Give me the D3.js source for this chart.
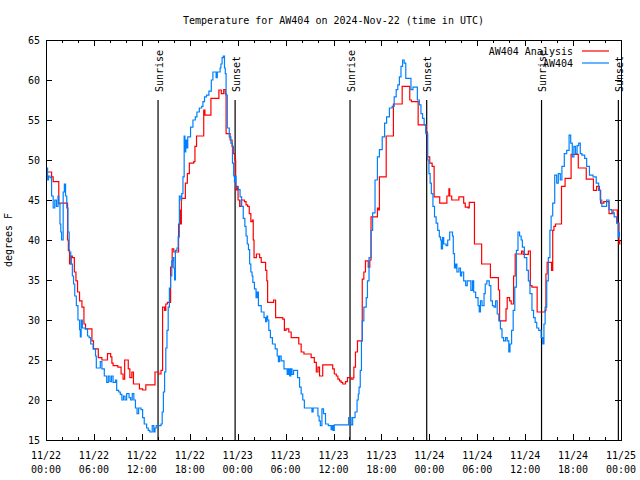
<!DOCTYPE html>
<html><head><meta charset="utf-8">
<script src="https://cdn.jsdelivr.net/npm/d3@7"></script>
<style>
body{margin:0;background:#fff}
svg{display:block}
text{font-family:"DejaVu Sans Mono","Liberation Mono",monospace;font-size:10px;fill:#000}
</style>
</head><body>
<svg id="chart" width="640" height="480"></svg>
<script>
const chartTitle = "Temperature for AW404 on 2024-Nov-22 (time in UTC)";
const yAxisLabel = "degrees F";
const startUTC = Date.UTC(2024, 10, 22, 0, 0);
const endUTC = Date.UTC(2024, 10, 25, 0, 0);
const yTickValues = [15, 20, 25, 30, 35, 40, 45, 50, 55, 60, 65];
const sunriseHours = [14.03, 38.07, 62.05];
const sunsetHours = [23.68, 47.67, 71.67];
const seriesNames = ["AW404 Analysis", "AW404"];
const seriesColors = ["#ff0000", "#0080ff"];

// [hours since 11/22 00:00 UTC, temperature °F]
const analysisSeries = [[0.0,48.5],[0.7,47.9],[0.9,47.3],[1.6,44.6],[2.7,40.0],[2.8,38.7],[2.95,37.0],[3.15,38.0],[3.3,37.8],[3.55,36.0],[3.75,34.9],[3.95,33.5],[4.2,32.4],[4.5,31.6],[4.75,29.5],[4.95,28.9],[5.75,27.4],[5.95,26.4],[6.55,25.3],[7.0,25.0],[7.7,25.8],[8.1,25.4],[8.25,24.6],[8.4,24.3],[9.0,24.1],[9.4,23.25],[9.65,22.6],[9.85,25.0],[10.3,23.9],[10.5,22.8],[10.75,23.5],[10.95,22.0],[11.7,21.4],[12.1,21.25],[12.5,21.9],[13.65,23.5],[14.1,23.25],[14.4,23.7],[14.6,31.6],[14.85,31.2],[15.0,32.0],[15.2,32.2],[15.6,36.6],[15.8,38.9],[16.0,38.5],[16.6,42.0],[16.75,43.75],[16.85,42.0],[16.95,45.2],[17.45,47.1],[17.7,48.3],[17.95,49.6],[18.5,49.8],[18.65,51.7],[18.85,53.0],[19.75,56.25],[19.9,55.6],[20.65,57.7],[21.65,58.75],[21.95,58.3],[22.25,58.8],[22.45,58.3],[22.55,53.3],[23.05,52.5],[23.3,51.7],[23.45,50.8],[23.65,50.0],[23.75,46.25],[23.9,46.7],[24.05,45.0],[24.25,44.2],[24.45,45.0],[24.85,44.8],[25.05,44.4],[25.25,44.2],[25.45,43.3],[25.65,42.3],[25.85,42.5],[25.95,40.0],[26.05,37.8],[26.35,38.25],[26.75,37.8],[26.95,37.2],[27.5,36.2],[27.65,34.9],[27.75,32.2],[28.5,32.5],[28.75,30.3],[29.65,30.1],[29.85,28.7],[30.05,28.9],[30.4,28.5],[30.7,27.8],[31.65,27.0],[31.95,26.0],[32.3,25.75],[33.2,25.3],[33.6,24.7],[33.85,23.5],[34.05,24.1],[34.25,23.0],[34.65,24.4],[35.9,23.9],[36.1,23.25],[36.35,23.0],[36.55,22.6],[36.75,22.4],[36.95,22.2],[37.15,22.0],[37.5,22.3],[37.75,22.8],[38.2,22.6],[38.45,22.8],[38.55,24.1],[38.75,26.0],[39.0,27.4],[39.6,35.1],[39.8,36.0],[40.0,37.4],[40.35,36.6],[40.55,37.5],[40.7,42.9],[41.5,44.0],[41.6,43.75],[41.75,47.9],[42.6,53.0],[43.5,57.0],[44.6,59.2],[45.55,57.5],[45.75,57.3],[46.6,54.4],[47.6,53.5],[47.75,50.4],[48.05,49.6],[48.35,49.2],[48.6,45.4],[49.3,44.6],[50.2,45.5],[50.45,46.4],[50.55,45.5],[50.8,45.0],[51.7,45.4],[52.3,44.6],[52.5,44.1],[52.85,44.0],[53.0,44.7],[53.65,39.5],[54.55,37.0],[55.65,35.3],[56.65,33.75],[56.8,29.9],[57.6,31.4],[57.75,32.8],[58.05,32.4],[58.25,32.0],[58.55,35.5],[58.75,38.25],[59.55,38.6],[59.75,38.2],[60.4,38.6],[60.65,34.3],[60.85,34.1],[61.5,31.0],[62.5,31.2],[62.6,35.75],[62.75,37.2],[63.3,36.2],[63.45,41.2],[63.6,41.7],[63.8,42.0],[64.55,46.7],[65.0,47.7],[65.75,50.7],[66.65,49.0],[67.65,47.6],[68.55,46.2],[68.95,46.7],[69.3,46.2],[69.45,44.6],[69.85,44.8],[70.5,43.3],[71.0,43.75],[71.55,42.1],[71.75,39.5],[71.85,40.0]];

const observedSeries = [[0.0,48.0],[0.1,49.0],[0.2,47.5],[0.3,48.0],[0.5,47.8],[0.7,45.5],[0.9,44.0],[1.1,45.0],[1.3,44.2],[1.5,45.5],[1.6,44.5],[1.75,42.0],[1.85,41.0],[1.95,40.0],[2.15,46.0],[2.3,47.0],[2.45,45.5],[2.6,44.0],[2.75,41.0],[2.9,38.5],[3.1,37.0],[3.3,35.5],[3.45,34.5],[3.6,33.0],[3.8,31.8],[4.0,30.0],[4.2,28.8],[4.3,27.9],[4.4,30.0],[4.55,29.0],[4.9,28.9],[5.2,28.0],[5.4,27.8],[5.6,27.0],[5.9,26.4],[6.2,25.5],[6.3,24.0],[6.6,24.0],[6.8,24.8],[7.0,23.9],[7.3,23.0],[7.6,22.2],[7.8,23.0],[8.0,22.3],[8.2,23.0],[8.4,22.2],[8.7,22.5],[8.85,21.2],[9.1,21.0],[9.3,20.7],[9.5,20.0],[9.7,20.5],[9.9,20.0],[10.1,20.8],[10.4,20.3],[10.6,20.0],[10.8,20.8],[11.0,20.0],[11.2,19.0],[11.4,18.3],[11.6,19.0],[11.9,18.8],[12.1,17.8],[12.3,17.0],[12.6,16.5],[12.8,16.2],[13.0,16.0],[13.3,16.8],[13.5,16.0],[13.65,16.5],[13.8,16.8],[14.2,16.8],[14.4,17.0],[14.55,18.5],[14.7,21.0],[14.85,23.5],[15.0,26.5],[15.15,28.7],[15.3,31.6],[15.45,34.0],[15.6,35.5],[15.75,37.4],[15.9,37.8],[16.0,36.5],[16.1,35.0],[16.2,38.7],[16.4,39.0],[16.55,40.4],[16.7,45.5],[16.9,45.0],[17.0,45.8],[17.15,47.9],[17.3,53.0],[17.4,51.0],[17.5,52.5],[17.6,51.5],[17.75,52.9],[18.1,54.1],[18.4,55.0],[18.7,55.4],[18.9,56.0],[19.2,56.5],[19.5,56.7],[19.65,57.3],[19.85,57.9],[20.1,58.1],[20.4,58.6],[20.7,60.0],[20.9,61.0],[21.3,60.3],[21.45,61.0],[21.8,61.5],[21.9,62.0],[22.05,62.8],[22.2,63.0],[22.35,61.5],[22.45,60.8],[22.55,58.1],[22.7,54.0],[22.95,52.9],[23.15,52.1],[23.35,49.6],[23.5,48.0],[23.6,47.3],[23.7,48.0],[23.8,46.5],[24.1,46.3],[24.3,45.4],[24.5,44.2],[24.7,42.7],[24.9,41.7],[25.05,40.5],[25.2,39.5],[25.35,38.8],[25.5,37.0],[25.65,36.0],[25.8,35.5],[25.9,34.7],[26.1,33.9],[26.3,32.8],[26.45,33.5],[26.6,31.8],[26.95,31.0],[27.3,30.3],[27.5,29.8],[27.65,30.5],[27.75,30.0],[27.9,28.7],[28.1,27.8],[28.35,27.0],[28.7,26.4],[28.95,25.5],[29.1,24.8],[29.25,25.5],[29.45,24.9],[29.8,23.9],[30.2,23.2],[30.35,23.9],[30.5,23.0],[30.65,23.9],[30.8,23.2],[31.0,23.7],[31.5,22.8],[31.75,21.6],[31.95,20.75],[32.15,20.0],[32.35,19.0],[33.2,19.0],[33.3,18.5],[33.45,19.0],[33.95,19.0],[34.05,18.0],[34.2,17.4],[34.35,16.8],[34.55,18.9],[34.75,18.3],[35.0,17.0],[35.35,16.8],[35.7,16.3],[35.85,16.8],[35.95,16.2],[36.1,16.9],[37.8,16.9],[37.9,17.8],[38.2,16.9],[38.4,17.8],[38.7,18.5],[38.95,20.0],[39.1,20.75],[39.2,21.6],[39.35,23.7],[39.5,27.4],[39.6,29.9],[39.8,31.6],[40.1,32.8],[40.25,34.9],[40.45,37.8],[40.7,41.2],[40.9,43.4],[41.2,47.5],[41.5,50.4],[41.75,51.3],[42.1,52.9],[42.4,54.6],[42.65,55.4],[43.0,56.5],[43.35,56.7],[43.6,57.9],[43.85,58.8],[44.05,59.4],[44.25,60.4],[44.45,61.7],[44.65,62.5],[44.85,62.1],[45.05,60.2],[45.7,58.8],[45.95,59.1],[46.5,57.5],[46.75,56.9],[46.95,55.8],[47.15,55.2],[47.35,54.4],[47.55,53.3],[47.8,50.0],[47.95,48.3],[48.1,47.1],[48.25,45.8],[48.45,44.2],[48.65,42.9],[48.85,42.1],[49.05,41.2],[49.25,40.4],[49.4,40.0],[49.5,38.9],[49.65,40.3],[49.8,39.5],[50.1,39.3],[50.3,40.0],[50.55,41.0],[50.9,40.5],[51.0,38.3],[51.15,36.5],[51.3,37.0],[51.45,36.0],[51.7,36.5],[51.9,35.5],[52.05,36.0],[52.3,34.9],[52.55,34.3],[52.75,34.9],[53.0,34.9],[53.2,33.7],[53.4,34.9],[53.55,33.5],[53.8,32.8],[54.1,31.8],[54.25,31.0],[54.4,32.4],[54.6,31.8],[54.85,33.3],[55.0,34.5],[55.2,34.9],[55.5,34.3],[55.7,32.4],[55.9,31.8],[56.1,31.6],[56.3,32.4],[56.5,30.75],[56.7,29.9],[56.9,28.9],[57.1,27.8],[57.3,27.4],[57.55,27.8],[57.75,27.4],[57.95,26.0],[58.1,27.0],[58.3,28.7],[58.5,31.2],[58.7,34.1],[58.9,38.7],[59.1,41.0],[59.3,40.5],[59.5,40.0],[59.65,39.1],[59.9,37.8],[60.2,36.2],[60.4,34.9],[60.6,33.3],[60.85,31.2],[61.05,30.3],[61.25,29.7],[61.45,29.0],[61.7,28.7],[62.0,27.8],[62.2,27.0],[62.35,29.5],[62.5,31.6],[62.7,34.9],[62.9,37.8],[63.1,41.2],[63.25,43.0],[63.45,44.6],[63.7,48.1],[63.95,47.1],[64.15,48.3],[64.4,47.5],[64.6,49.2],[64.9,50.8],[65.2,51.2],[65.5,53.1],[65.7,52.1],[65.9,50.4],[66.1,51.7],[66.3,50.8],[66.5,51.8],[66.7,52.1],[66.9,50.8],[67.1,50.6],[67.45,50.2],[67.7,49.2],[68.05,48.1],[68.5,47.9],[68.9,47.1],[69.2,46.2],[69.4,45.0],[69.6,44.2],[70.2,45.0],[70.5,43.8],[70.85,43.4],[71.15,42.9],[71.45,42.1],[71.65,40.4],[71.8,41.0]];

const svg = d3.select("#chart");
const W = 640, H = 480;
const m = {left: 46, right: 19, top: 40, bottom: 40};
const x0 = m.left, x1 = W - m.right, y0 = m.top, y1 = H - m.bottom;

const hourToDate = h => new Date(startUTC + h * 3600e3);
const x = d3.scaleUtc().domain([new Date(startUTC), new Date(endUTC)]).range([x0, x1]);
const y = d3.scaleLinear().domain([15, 65]).range([y1, y0]);

// title
svg.append("text").attr("x", (x0 + x1) / 2).attr("y", 24)
  .attr("text-anchor", "middle").text(chartTitle);

// y label
svg.append("text").attr("transform", `translate(12,${(y0 + y1) / 2}) rotate(-90)`)
  .attr("text-anchor", "middle").text(yAxisLabel);

// ticks
const majorX = d3.utcHour.every(6).range(new Date(startUTC), new Date(endUTC + 1));
const minorX = d3.utcHour.every(2).range(new Date(startUTC), new Date(endUTC + 1));

const axisG = svg.append("g").attr("stroke", "#000").attr("stroke-width", 1).attr("shape-rendering", "crispEdges");
minorX.forEach(t => {
  const xx = Math.round(x(t)) + 0.5;
  const len = majorX.some(mj => +mj === +t) ? 6 : 3;
  axisG.append("line").attr("x1", xx).attr("x2", xx).attr("y1", y1).attr("y2", y1 - len);
  axisG.append("line").attr("x1", xx).attr("x2", xx).attr("y1", y0).attr("y2", y0 + len);
});
yTickValues.forEach(v => {
  const yy = Math.round(y(v)) + 0.5;
  axisG.append("line").attr("x1", x0).attr("x2", x0 + 6).attr("y1", yy).attr("y2", yy);
  axisG.append("line").attr("x1", x1).attr("x2", x1 - 6).attr("y1", yy).attr("y2", yy);
});

// y tick labels
svg.append("g").selectAll("text").data(yTickValues).join("text")
  .attr("x", x0 - 6).attr("y", d => y(d) + 4).attr("text-anchor", "end").text(d => d);

// x tick labels
const fDate = d3.utcFormat("%m/%d"), fTime = d3.utcFormat("%H:%M");
const xl = svg.append("g").selectAll("text").data(majorX).join("text")
  .attr("text-anchor", "middle");
xl.append("tspan").attr("x", d => x(d)).attr("y", 459).text(d => fDate(d));
xl.append("tspan").attr("x", d => x(d)).attr("y", 473).text(d => fTime(d));

// sunrise / sunset markers
const sunEvents = sunriseHours.map(h => ({h, label: "Sunrise"}))
  .concat(sunsetHours.map(h => ({h, label: "Sunset"})));
sunEvents.forEach(e => {
  const xx = x(hourToDate(e.h));
  svg.append("line").attr("x1", xx).attr("x2", xx).attr("y1", 100).attr("y2", y1)
    .attr("stroke", "#000").attr("stroke-width", 1.2);
  svg.append("text").attr("transform", `translate(${xx + 4.5},92) rotate(-90)`)
    .attr("text-anchor", "start").text(e.label);
});

// series
const line = d3.line().x(d => x(hourToDate(d[0]))).y(d => y(d[1])).curve(d3.curveStepAfter);
[analysisSeries, observedSeries].forEach((s, i) => {
  svg.append("path").datum(s).attr("d", line).attr("fill", "none")
    .attr("stroke", seriesColors[i]).attr("stroke-width", 1.2);
});

// legend
seriesNames.forEach((n, i) => {
  const ly = 51 + i * 12;
  svg.append("text").attr("x", 573).attr("y", ly + 4).attr("text-anchor", "end").text(n);
  svg.append("line").attr("x1", 582).attr("x2", 609).attr("y1", ly).attr("y2", ly)
    .attr("stroke", seriesColors[i]).attr("stroke-width", 1.2);
});

// border
svg.append("rect").attr("x", x0 + 0.5).attr("y", y0 + 0.5).attr("width", x1 - x0).attr("height", y1 - y0)
  .attr("fill", "none").attr("stroke", "#000").attr("stroke-width", 1).attr("shape-rendering", "crispEdges");
</script>
</body></html>
